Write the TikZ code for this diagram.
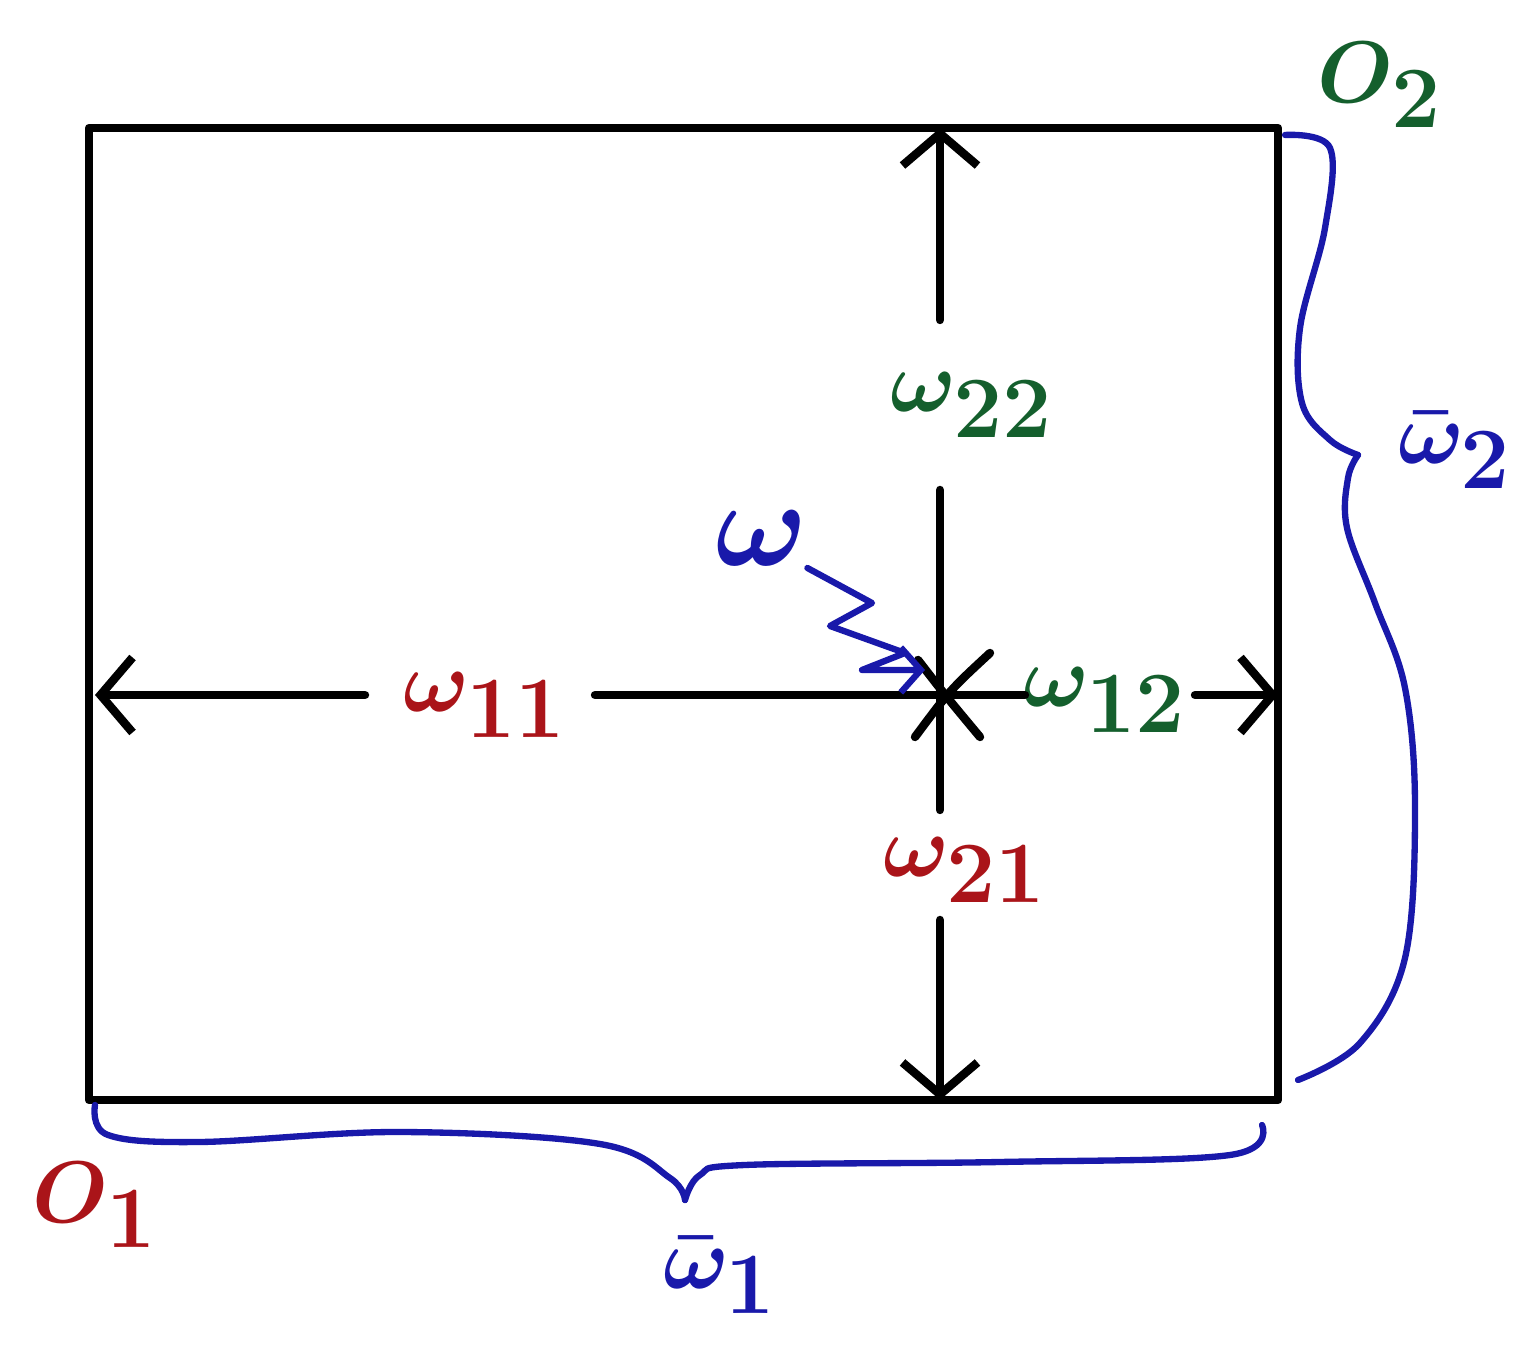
\documentclass[tikz,border=0pt]{standalone}
\usetikzlibrary{arrows.meta}
\definecolor{hred}{RGB}{170,20,25}
\definecolor{hgreen}{RGB}{20,95,45}
\definecolor{hblue}{RGB}{25,25,170}
\tikzset{
  boxline/.style={line width=2.4pt, line cap=round, line join=round},
  arr/.style={boxline, -{Straight Barb[length=0.32cm,width=0.75cm,line width=2.4pt]}},
  bline/.style={hblue, line width=1.8pt, line cap=round, line join=round},
  lab/.style={inner sep=1pt, font=\fontsize{42}{46}\selectfont\boldmath},
}
\begin{document}
\begin{tikzpicture}
\useasboundingbox (0,0) rectangle (15.3,13.48);
% box corners
\coordinate (BL) at (0.89,2.48);
\coordinate (TR) at (12.78,12.2);
\draw[boxline] (BL) rectangle (TR);
% reference points
\coordinate (W) at (9.40,6.53);
\coordinate (top) at (9.40,12.2);
\coordinate (bot) at (9.40,2.48);
\coordinate (lft) at (0.95,6.53);
\coordinate (rgt) at (12.78,6.53);
% labels
\node[lab, text=hgreen] (w22) at (9.72,9.43) {$\omega_{22}$};
\node[lab, text=hred] (w21) at (9.65,4.78) {$\omega_{21}$};
\node[lab, text=hred] (w11) at (4.85,6.43) {$\omega_{11}$};
\node[lab, text=hgreen] (w12) at (11.05,6.48) {$\omega_{12}$};
\node[lab, text=hblue] (w) at (7.62,8.1) {\scalebox{1.4}{$\omega$}};
\node[lab, text=hgreen] (O2) at (13.80,12.63) {$O_2$};
\node[lab, text=hred] (O1) at (0.95,1.43) {$O_1$};
\node[lab, text=hblue] (wb2) at (14.55,8.98) {$\bar{\omega}_2$};
\node[lab, text=hblue] (wb1) at (7.20,0.73) {$\bar{\omega}_1$};
% vertical axis
\draw[arr] (9.40,10.28) -- (top);
\draw[boxline] (9.40,8.58) -- (9.40,5.38);
\draw[arr] (9.40,4.28) -- (bot);
% horizontal axis
\draw[arr] (3.65,6.53) -- (lft);
\draw[boxline] (5.95,6.53) -- (10.25,6.53);
\draw[arr] (11.95,6.53) -- (rgt);
% cross at W
\draw[boxline] ([shift={(0.5,0.42)}]W) .. controls ([shift={(0.1,0.05)}]W) .. ([shift={(-0.25,-0.42)}]W);
\draw[boxline] ([shift={(-0.22,0.35)}]W) .. controls ([shift={(0.05,0.0)}]W) .. ([shift={(0.4,-0.42)}]W);
% omega pointer
\draw[bline, -{Straight Barb[length=0.2cm,width=0.45cm,line width=1.8pt]}]
  (w.east) ++(-0.05,-0.3) -- (8.72,7.45) -- (8.30,7.22) -- (9.05,6.95) -- (8.62,6.78) -- (9.25,6.78);
% right brace
\draw[bline] plot[smooth, tension=0.6] coordinates {
  (12.85,12.13) (13.30,12.0) (13.25,11.2) (13.0,10.2) (13.02,9.45) (13.3,9.08) (13.58,8.93)};
\draw[bline] plot[smooth, tension=0.6] coordinates {
  (13.58,8.93) (13.48,8.7) (13.47,8.2) (13.75,7.45) (14.05,6.6) (14.15,5.4) (14.05,3.9) (13.6,3.05) (12.98,2.68)};
% bottom brace
\draw[bline] plot[smooth, tension=0.6] coordinates {
  (0.95,2.43) (1.08,2.13) (2.0,2.06) (4.0,2.16) (6.0,2.04) (6.7,1.7) (6.85,1.48)};
\draw[bline] plot[smooth, tension=0.6] coordinates {
  (6.85,1.48) (7.0,1.73) (7.45,1.83) (10.0,1.86) (12.3,1.93) (12.62,2.23)};
\end{tikzpicture}
\end{document}
